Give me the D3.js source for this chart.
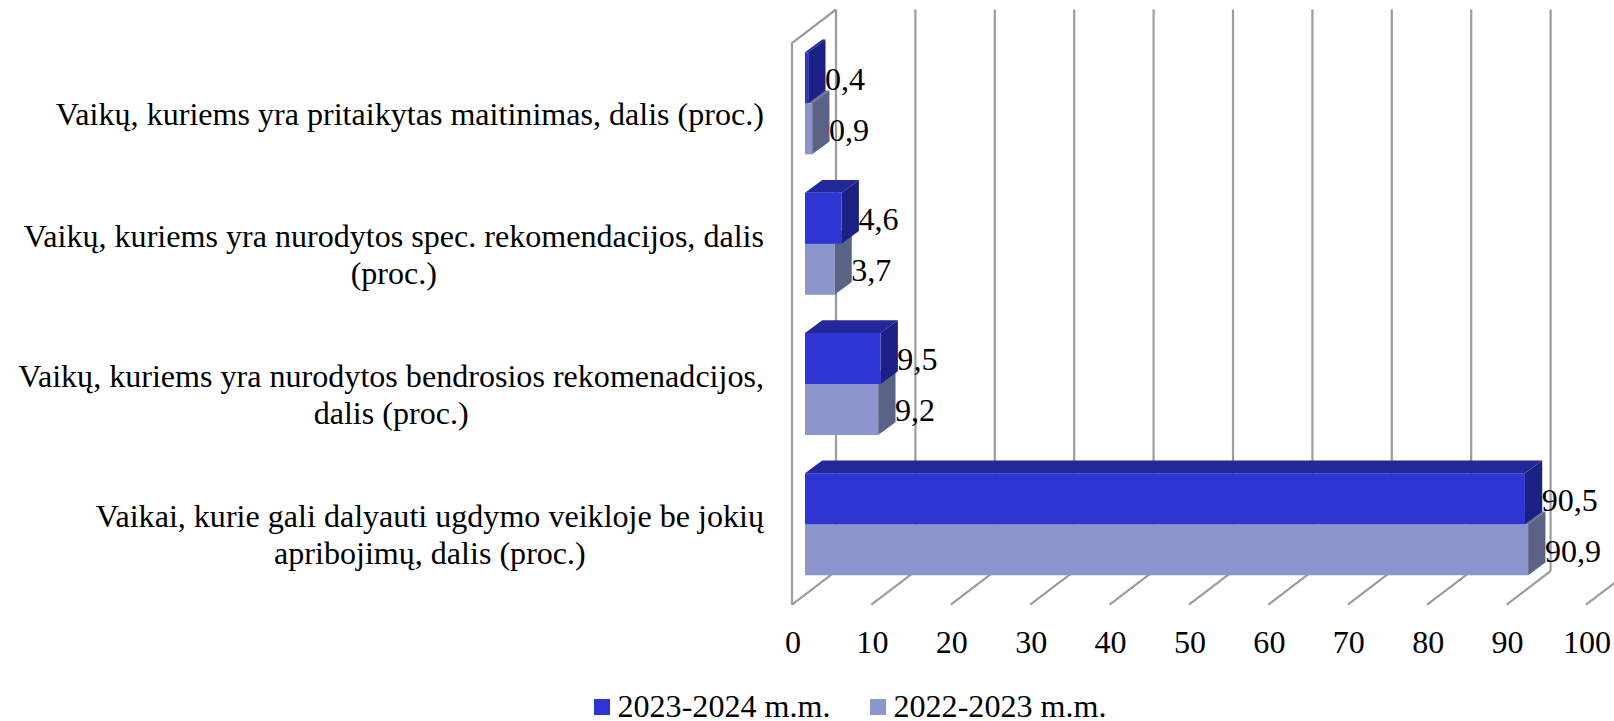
<!DOCTYPE html>
<html><head><meta charset="utf-8">
<script src="https://cdn.jsdelivr.net/npm/d3@7"></script>
<style>html,body{margin:0;padding:0;background:#fff;overflow:hidden}svg{display:block}text{font-family:"Liberation Serif",serif;fill:#000}</style>
</head><body><svg id="c" width="1614" height="721"></svg>
<script>
const categories = [
  ["Vaikų, kuriems yra pritaikytas maitinimas, dalis (proc.)"],
  ["Vaikų, kuriems yra nurodytos spec. rekomendacijos, dalis", "(proc.)"],
  ["Vaikų, kuriems yra nurodytos bendrosios rekomenadcijos,", "dalis (proc.)"],
  ["Vaikai, kurie gali dalyauti ugdymo veikloje be jokių", "apribojimų, dalis (proc.)"]
];
const seriesNames = ["2023-2024 m.m.", "2022-2023 m.m."];
const values2023 = [0.4, 4.6, 9.5, 90.5];
const values2022 = [0.9, 3.7, 9.2, 90.9];
const ticks = [0,10,20,30,40,50,60,70,80,90,100];

const svg = d3.select("#c");
const fs = 32.1;
const plotLeft = 792, plotRight = 1586, plotTop = 43, plotBottom = 604.7;
const wallDx = 44, wallDy = 33.5, barDx = 17.3, barDy = 12.7;
const x = d3.scaleLinear().domain([0,100]).range([plotLeft,plotRight]);
const xBar = d3.scaleLinear().domain([0,100]).range([805,1600.5]);
const y = d3.scaleBand().domain(d3.range(4)).range([33.15,594.45]).paddingInner(0.273).paddingOuter(0.1365);
const barH = y.bandwidth()/2;
const grid = "#9c9c9c";

const g = svg.append("g");
g.selectAll("line.back").data(ticks).join("line").attr("class","back")
  .attr("x1",d=>x(d)+wallDx).attr("x2",d=>x(d)+wallDx).attr("y1",plotTop-wallDy).attr("y2",plotBottom-wallDy)
  .attr("stroke",grid).attr("stroke-width",2.2);
g.selectAll("line.floor").data(ticks).join("line").attr("class","floor")
  .attr("x1",d=>x(d)).attr("x2",d=>x(d)+wallDx).attr("y1",plotBottom).attr("y2",plotBottom-wallDy)
  .attr("stroke",grid).attr("stroke-width",2.2);
g.append("path").attr("fill","none").attr("stroke",grid).attr("stroke-width",2.2)
  .attr("d",d3.line()([[x(0)+wallDx,plotTop-wallDy],[x(0),plotTop],[x(0),plotBottom]]));

function bar(v,i,yTop,cols){
  const x0=xBar(0), x1=xBar(v), y0=yTop, y1=yTop+barH;
  const b=g.append("g");
  const poly=(pts,c)=>b.append("polygon").attr("points",pts.map(p=>p.join(",")).join(" ")).attr("fill",c);
  poly([[x0,y0],[x0+barDx,y0-barDy],[x1+barDx,y0-barDy],[x1,y0]],cols.top);
  poly([[x1,y0],[x1+barDx,y0-barDy],[x1+barDx,y1-barDy],[x1,y1]],cols.side);
  poly([[x0,y0],[x1,y0],[x1,y1],[x0,y1]],cols.front);
}
const darkCols={front:"#2e35d2",top:"#22279a",side:"#1c2085"};
const lightCols={front:"#8d96cc",top:"#686f9e",side:"#5a6285"};
categories.forEach((c,i)=>{
  bar(values2022[i],i,y(i)+barH,lightCols);
  bar(values2023[i],i,y(i),darkCols);
});

// value labels
const fmt=v=>String(v).replace(".",",");
categories.forEach((c,i)=>{
  [[values2023[i],y(i)],[values2022[i],y(i)+barH]].forEach(([v,yt])=>{
    svg.append("text").attr("x",xBar(v)+barDx-0.5).attr("y",yt+37.5)
      .attr("font-size",fs).text(fmt(v));
  });
});

// category labels
const lh = 37;
categories.forEach((lines,i)=>{
  const cy=y(i)+barH+11;
  const t=svg.append("text").attr("font-size",fs).attr("text-anchor","middle");
  lines.forEach((l,k)=>{ t.append("tspan").attr("y",cy+(k-(lines.length-1)/2)*lh+10.56).text(l); });
  const widths=[]; t.selectAll("tspan").each(function(){widths.push(this.getComputedTextLength());});
  const mx=d3.max(widths);
  t.selectAll("tspan").attr("x",764-mx/2);
});

// axis labels
svg.selectAll("text.tick").data(ticks).join("text").attr("class","tick")
  .attr("x",d=>x(d)+1).attr("y",652.5).attr("text-anchor","middle").attr("font-size",fs).text(d=>d);

// legend
const legendColors=[darkCols.front,lightCols.front];
const legendX=[594,870];
seriesNames.forEach((n,i)=>{
  svg.append("rect").attr("x",legendX[i]).attr("y",699).attr("width",16).attr("height",16).attr("fill",legendColors[i]);
  svg.append("text").attr("x",legendX[i]+23.5).attr("y",717).attr("font-size",fs).text(n);
});
</script></body></html>
